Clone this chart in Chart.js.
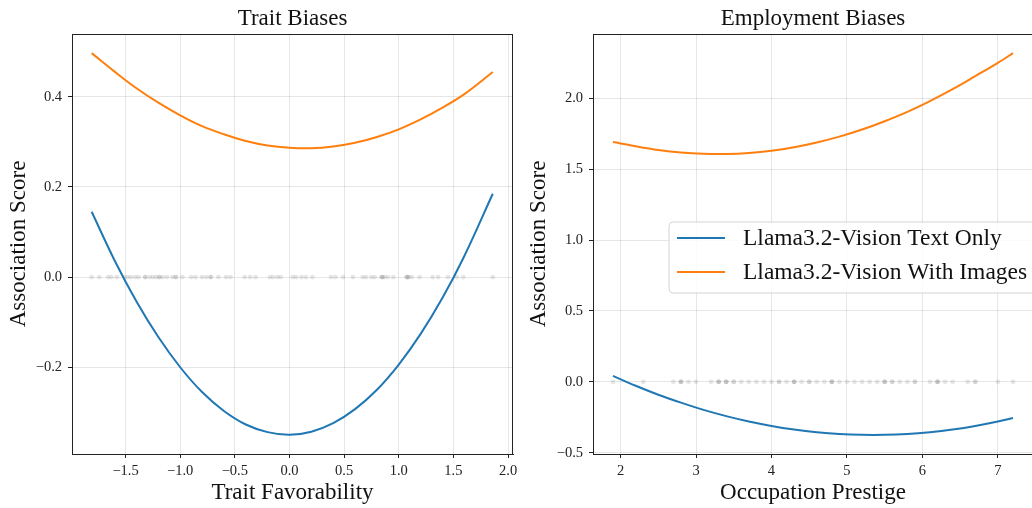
<!DOCTYPE html>
<html>
<head>
<meta charset="utf-8">
<title>Trait and Employment Biases</title>
<script src="https://cdn.jsdelivr.net/npm/chart.js@4.4.1/dist/chart.umd.min.js"></script>
<style>
  html, body { margin: 0; padding: 0; background: #ffffff; overflow: hidden; width: 1032px; height: 508px; }
  .panel { position: absolute; top: 0; height: 508px; }
  #traitPanel { left: 0; width: 520px; }
  #occPanel { left: 520px; width: 520px; }
</style>
</head>
<body>
<div id="traitPanel" class="panel"><canvas id="traitChart" width="520" height="508"></canvas></div>
<div id="occPanel" class="panel"><canvas id="occChart" width="520" height="508"></canvas></div>
<script>
// ---- Trait Biases ----
const traitX = [-1.81, -1.6, -1.4, -1.2, -1.0, -0.8, -0.6, -0.4, -0.2, 0.0, 0.2, 0.4, 0.6, 0.8, 1.0, 1.2, 1.4, 1.6, 1.86];
const traitTextOnly = [0.145, 0.037, -0.054, -0.133, -0.200, -0.255, -0.297, -0.327, -0.344, -0.350, -0.343, -0.324, -0.293, -0.250, -0.194, -0.126, -0.046, 0.047, 0.185];
const traitWithImages = [0.497, 0.456, 0.419, 0.387, 0.359, 0.335, 0.317, 0.302, 0.292, 0.287, 0.286, 0.290, 0.298, 0.311, 0.328, 0.350, 0.376, 0.406, 0.455];
// favorability of each individual trait (plotted along zero)
const traitPoints = [-1.81, -1.74, -1.66, -1.63, -1.58, -1.51, -1.48, -1.45, -1.41, -1.38, -1.32, -1.32, -1.28, -1.25, -1.22,
  -1.19, -1.19, -1.16, -1.12, -1.07, -1.04, -1.04, -0.98, -0.90, -0.86, -0.80, -0.76, -0.72, -0.72, -0.65, -0.58, -0.54,
  -0.41, -0.36, -0.31, -0.18, -0.15, -0.11, -0.08, 0.03, 0.06, 0.11, 0.15, 0.21, 0.38, 0.42, 0.49, 0.58, 0.67, 0.70,
  0.75, 0.78, 0.84, 0.85, 0.85, 0.87, 0.90, 0.95, 1.07, 1.08, 1.08, 1.09, 1.12, 1.19, 1.31, 1.36, 1.45, 1.53, 1.59, 1.86];
const traitXTicks = [-1.5, -1.0, -0.5, 0.0, 0.5, 1.0, 1.5, 2.0];
const traitXTickLabels = ['\u22121.5', '\u22121.0', '\u22120.5', '0.0', '0.5', '1.0', '1.5', '2.0'];
const traitYTicks = [-0.2, 0.0, 0.2, 0.4];
const traitYTickLabels = ['\u22120.2', '0.0', '0.2', '0.4'];

// ---- Employment Biases ----
const occX = [1.9, 2.2, 2.5, 2.8, 3.1, 3.4, 3.7, 4.0, 4.3, 4.6, 4.9, 5.2, 5.5, 5.8, 6.1, 6.4, 6.7, 7.0, 7.2];
const occTextOnly = [0.042, -0.028, -0.091, -0.147, -0.198, -0.242, -0.280, -0.311, -0.336, -0.355, -0.368, -0.374, -0.374, -0.368, -0.355, -0.336, -0.311, -0.280, -0.255];
const occWithImages = [1.691, 1.661, 1.635, 1.617, 1.608, 1.607, 1.614, 1.630, 1.655, 1.688, 1.729, 1.779, 1.838, 1.904, 1.980, 2.064, 2.156, 2.250, 2.318];
// prestige of each individual occupation (plotted along zero)
const occPoints = [1.9, 2.3, 2.7, 2.8, 2.8, 2.8, 2.9, 3.0, 3.2, 3.3, 3.3, 3.3, 3.4, 3.4, 3.4, 3.5, 3.5, 3.6, 3.7, 3.8,
  3.9, 4.0, 4.1, 4.1, 4.2, 4.3, 4.3, 4.3, 4.4, 4.5, 4.5, 4.6, 4.7, 4.8, 4.8, 4.8, 4.9, 5.0, 5.1, 5.2, 5.3, 5.4,
  5.5, 5.5, 5.5, 5.6, 5.6, 5.7, 5.8, 5.9, 5.9, 6.1, 6.2, 6.2, 6.2, 6.3, 6.4, 6.6, 6.7, 6.7, 7.0, 7.2];
const occXTicks = [2, 3, 4, 5, 6, 7];
const occXTickLabels = ['2', '3', '4', '5', '6', '7'];
const occYTicks = [-0.5, 0.0, 0.5, 1.0, 1.5, 2.0];
const occYTickLabels = ['\u22120.5', '0.0', '0.5', '1.0', '1.5', '2.0'];

const seriesNames = ['Llama3.2-Vision Text Only', 'Llama3.2-Vision With Images'];
const seriesColors = ['#1f77b4', '#ff7f0e'];

const SERIF = "'Liberation Serif', 'Times New Roman', 'DejaVu Serif', serif";
const GRID = 'rgba(176,176,176,0.32)';
const INK = '#222222';

// closes the box around the plotting area (top spine, and right spine when asked)
const framePlugin = {
  id: 'frame',
  afterDraw(chart, args, opts) {
    const a = chart.chartArea, ctx = chart.ctx;
    ctx.save();
    ctx.strokeStyle = INK;
    ctx.lineWidth = 1;
    ctx.beginPath();
    const t = Math.round(a.top) + 0.5, r = Math.round(a.right) - 0.5;
    ctx.moveTo(Math.round(a.left), t);
    ctx.lineTo(Math.round(a.right), t);
    if (opts.right) {
      ctx.moveTo(r, Math.round(a.top));
      ctx.lineTo(r, Math.round(a.bottom));
    }
    ctx.stroke();
    ctx.restore();
  }
};

// boxed legend inside the plot, listing the two curves
const boxLegendPlugin = {
  id: 'boxLegend',
  afterDraw(chart, args, opts) {
    if (!opts.show) return;
    const a = chart.chartArea, ctx = chart.ctx;
    const x0 = a.left + 76, y0 = a.top + 188, w = 380, h = 71, rad = 4;
    ctx.save();
    ctx.beginPath();
    ctx.moveTo(x0 + rad, y0);
    ctx.lineTo(x0 + w - rad, y0);
    ctx.arcTo(x0 + w, y0, x0 + w, y0 + rad, rad);
    ctx.lineTo(x0 + w, y0 + h - rad);
    ctx.arcTo(x0 + w, y0 + h, x0 + w - rad, y0 + h, rad);
    ctx.lineTo(x0 + rad, y0 + h);
    ctx.arcTo(x0, y0 + h, x0, y0 + h - rad, rad);
    ctx.lineTo(x0, y0 + rad);
    ctx.arcTo(x0, y0, x0 + rad, y0, rad);
    ctx.closePath();
    ctx.fillStyle = 'rgba(255,255,255,0.85)';
    ctx.fill();
    ctx.strokeStyle = '#d4d4d4';
    ctx.lineWidth = 1;
    ctx.stroke();
    ctx.font = '23.5px ' + SERIF;
    ctx.textBaseline = 'middle';
    ctx.textAlign = 'left';
    const rows = chart.data.datasets.filter(d => d.inLegend);
    rows.forEach((d, i) => {
      const cy = y0 + 16 + i * 34;
      ctx.strokeStyle = d.borderColor;
      ctx.lineWidth = 2;
      ctx.beginPath();
      ctx.moveTo(x0 + 8, cy);
      ctx.lineTo(x0 + 56, cy);
      ctx.stroke();
      ctx.fillStyle = '#111111';
      ctx.fillText(d.label, x0 + 74, cy + 1);
    });
    ctx.restore();
  }
};

function pairs(xs, ys) { return xs.map((x, i) => ({ x: x, y: ys[i] })); }

function makeAxis(cfg) {
  return {
    type: 'linear',
    min: cfg.min,
    max: cfg.max,
    afterBuildTicks: s => { s.ticks = cfg.ticks.map(v => ({ value: v })); },
    afterFit: s => {
      // fixed axis band; no extra room reserved for overhanging end labels
      if (cfg.horizontal) s.height = cfg.size; else s.width = cfg.size;
      s.paddingLeft = 0; s.paddingRight = 0; s.paddingTop = 0; s.paddingBottom = 0;
    },
    ticks: {
      autoSkip: false,
      maxRotation: 0,
      padding: cfg.horizontal ? 4 : 6,
      color: INK,
      font: { family: SERIF, size: 14.5 },
      callback: (v, i) => cfg.labels[i]
    },
    grid: { color: GRID, tickColor: INK, tickLength: 4, lineWidth: 1, drawTicks: true },
    border: { display: true, color: INK, width: 1 },
    title: {
      display: true,
      text: cfg.title,
      color: '#111111',
      font: { family: SERIF, size: 23 },
      padding: cfg.horizontal ? { top: 0, bottom: 1 } : { top: 5, bottom: 4 }
    }
  };
}

function makePanel(canvasId, p) {
  return new Chart(document.getElementById(canvasId), {
    type: 'scatter',
    data: {
      datasets: [
        { label: seriesNames[0], inLegend: true, data: pairs(p.x, p.textOnly), showLine: true, borderColor: seriesColors[0],
          backgroundColor: seriesColors[0], borderWidth: 2, pointRadius: 0, tension: 0.35, order: 0 },
        { label: seriesNames[1], inLegend: true, data: pairs(p.x, p.withImages), showLine: true, borderColor: seriesColors[1],
          backgroundColor: seriesColors[1], borderWidth: 2, pointRadius: 0, tension: 0.35, order: 1 },
        { label: 'items', data: p.points.map(v => ({ x: v, y: 0 })), showLine: false, pointRadius: 2.4,
          pointBorderWidth: 0, backgroundColor: 'rgba(128,128,128,0.2)', borderColor: 'rgba(0,0,0,0)', order: 2 }
      ]
    },
    options: {
      responsive: false,
      animation: false,
      events: [],
      layout: { autoPadding: false, padding: { left: 0, right: 7, top: 0, bottom: 0 } },
      plugins: {
        legend: { display: false },
        tooltip: { enabled: false },
        title: {
          display: true,
          text: p.title,
          fullSize: false,
          color: '#111111',
          font: { family: SERIF, size: 23, weight: 'normal' },
          padding: { top: 5, bottom: 1.4 }
        },
        boxLegend: { show: p.legend },
        frame: { right: p.rightSpine }
      },
      scales: {
        x: makeAxis({ horizontal: true, size: 54, min: p.xMin, max: p.xMax, ticks: p.xTicks, labels: p.xLabels, title: p.xTitle }),
        y: makeAxis({ horizontal: false, size: p.yWidth, min: p.yMin, max: p.yMax, ticks: p.yTicks, labels: p.yLabels, title: 'Association Score' })
      }
    },
    plugins: [framePlugin, boxLegendPlugin]
  });
}

makePanel('traitChart', {
  title: 'Trait Biases', xTitle: 'Trait Favorability',
  x: traitX, textOnly: traitTextOnly, withImages: traitWithImages, points: traitPoints,
  xMin: -1.99, xMax: 2.045, yMin: -0.3925, yMax: 0.5395,
  xTicks: traitXTicks, xLabels: traitXTickLabels, yTicks: traitYTicks, yLabels: traitYTickLabels,
  yWidth: 72, legend: false, rightSpine: true
});

makePanel('occChart', {
  title: 'Employment Biases', xTitle: 'Occupation Prestige',
  x: occX, textOnly: occTextOnly, withImages: occWithImages, points: occPoints,
  xMin: 1.635, xMax: 7.465, yMin: -0.509, yMax: 2.453,
  xTicks: occXTicks, xLabels: occXTickLabels, yTicks: occYTicks, yLabels: occYTickLabels,
  yWidth: 73, legend: true, rightSpine: false
});
</script>
</body>
</html>
